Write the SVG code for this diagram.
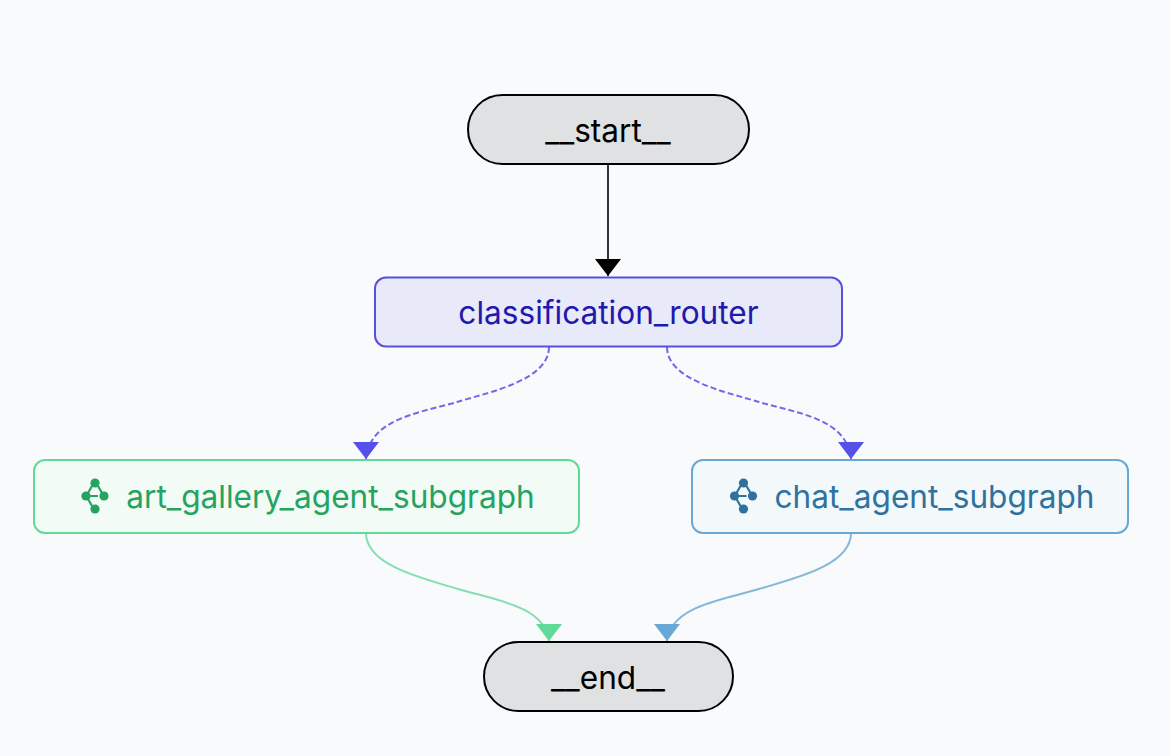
<svg xmlns="http://www.w3.org/2000/svg" width="1170" height="756" viewBox="0 0 1170 756">
<style>
text{font-family:Inter,"Liberation Sans",sans-serif;font-size:31.6px;text-anchor:middle;dominant-baseline:central}
.term rect{fill:#e0e1e2;stroke:#000;stroke-width:2}
.term text{fill:#000}
.edge{fill:none;stroke-width:2}
</style>
<defs>
<marker id="mk" markerUnits="userSpaceOnUse" markerWidth="26" markerHeight="17" refX="13" refY="17" orient="0" viewBox="0 0 26 17"><path d="M0 0H26L13 17Z" fill="#000"/></marker>
<marker id="mi" markerUnits="userSpaceOnUse" markerWidth="26" markerHeight="17" refX="13" refY="17" orient="0" viewBox="0 0 26 17"><path d="M0 0H26L13 17Z" fill="#5550e8"/></marker>
<marker id="mg" markerUnits="userSpaceOnUse" markerWidth="26" markerHeight="17" refX="13" refY="17" orient="0" viewBox="0 0 26 17"><path d="M0 0H26L13 17Z" fill="#5fdb97"/></marker>
<marker id="mb" markerUnits="userSpaceOnUse" markerWidth="26" markerHeight="17" refX="13" refY="17" orient="0" viewBox="0 0 26 17"><path d="M0 0H26L13 17Z" fill="#68a8d4"/></marker>
<g id="ic"><circle cx="0" cy="-13" r="4.6"/><circle cx="-9" cy="0" r="4.6"/><circle cx="9" cy="0" r="4.6"/><circle cx="0" cy="13" r="4.6"/><path d="M-3-10-7-3M3-10 7-3M-9 0H3M-3 10-7 3" fill="none" stroke="currentColor" stroke-width="2.2"/></g>
</defs>
<rect width="1170" height="756" fill="#f9fafc"/>
<g id="connectors">
<path class="edge" d="M608 164V276" stroke="#333" marker-end="url(#mk)"/>
<path class="edge" d="M549 347C549 380 490 392 457 402C420 413 370 418 366 459" stroke="#6f6be8" stroke-dasharray="6 3" marker-end="url(#mi)"/>
<path class="edge" d="M667 347C667 380 726 392 759 402C796 413 847 418 851 459" stroke="#6f6be8" stroke-dasharray="6 3" marker-end="url(#mi)"/>
<path class="edge" d="M366 533C366 566 425 579 458 589C495 600 545 606 549 641" stroke="#85e0b0" marker-end="url(#mg)"/>
<path class="edge" d="M851 533C851 566 792 579 759 589C722 600 671 606 667 641" stroke="#82b8d9" marker-end="url(#mb)"/>
</g>
<g id="start" class="term"><rect x="468" y="95" width="281" height="69" rx="34.5"/><text x="608" y="130">__start__</text></g>
<g id="classification_router"><rect x="375" y="277.500" width="467" height="69" rx="11" fill="#e8e9f9" stroke="#5550e0" stroke-width="2"/><text x="608.500" y="312" fill="#2118ae">classification_router</text></g>
<g id="art_gallery_agent_subgraph"><rect x="34" y="460" width="545" height="73" rx="11" fill="#f3fbf7" stroke="#5fdb97" stroke-width="2"/><use href="#ic" x="95" y="496" fill="#25a35f" color="#25a35f"/><text x="330.500" y="496" fill="#25a35f">art_gallery_agent_subgraph</text></g>
<g id="chat_agent_subgraph"><rect x="692" y="460" width="436" height="73" rx="11" fill="#f3f8fb" stroke="#68a8d4" stroke-width="2"/><use href="#ic" x="743.500" y="496" fill="#2f729e" color="#2f729e"/><text x="934.500" y="496" fill="#2f729e">chat_agent_subgraph</text></g>
<g id="end" class="term"><rect x="484" y="642" width="249" height="69" rx="34.500"/><text x="608" y="677">__end__</text></g>
</svg>
